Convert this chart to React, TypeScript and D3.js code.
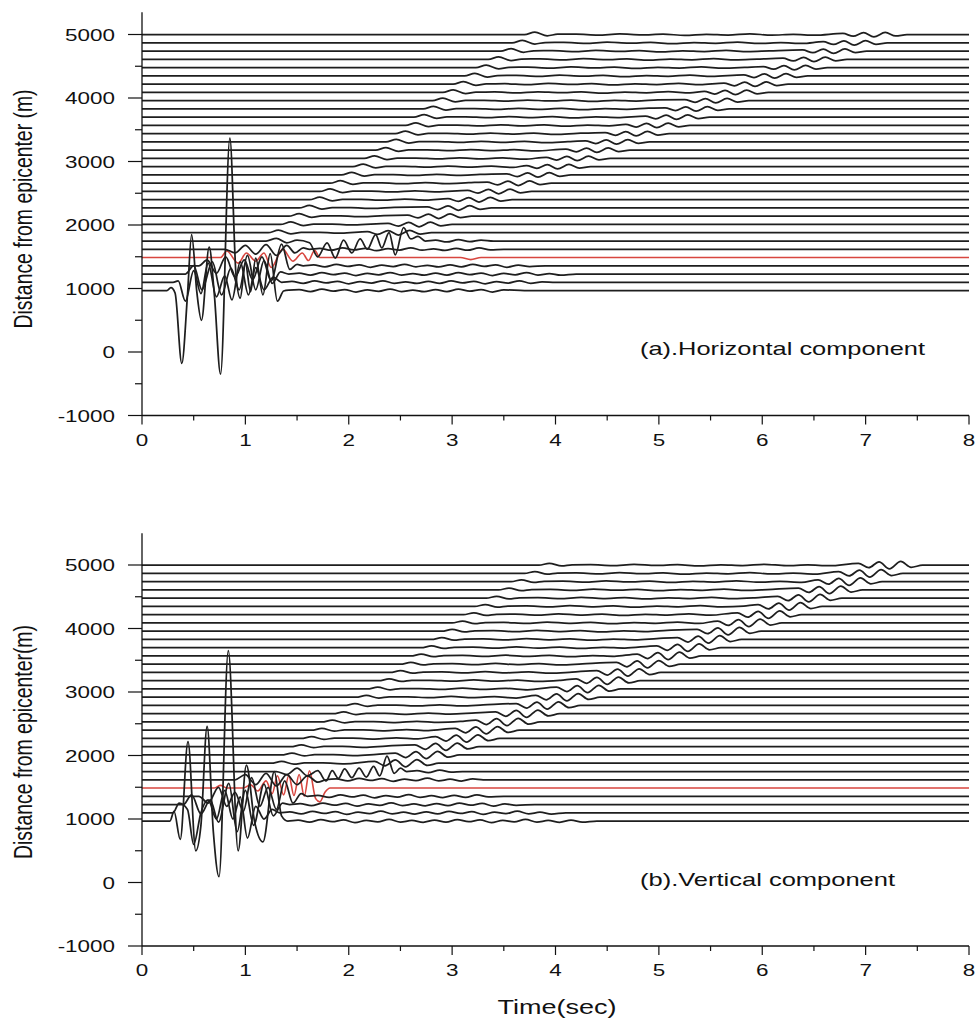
import React from "react";
import * as d3 from "d3";

// ---------- data ----------
const TIME_TICKS = [0, 1, 2, 3, 4, 5, 6, 7, 8];
const TIME_MINOR = [0.5, 1.5, 2.5, 3.5, 4.5, 5.5, 6.5, 7.5];
const DIST_TICKS = [-1000, 0, 1000, 2000, 3000, 4000, 5000];
const DIST_MINOR = [-500, 500, 1500, 2500, 3500, 4500];

// station distances (m), bottom to top
const DISTANCES = [
  968, 1098, 1228, 1358, 1488, 1618, 1748, 1878, 2008, 2138, 2268, 2398, 2528, 2658, 2788, 2918,
  3048, 3178, 3308, 3438, 3568, 3698, 3828, 3958, 4088, 4218, 4348, 4478, 4608, 4738, 4868, 4998,
];
const RED_INDEX = 4;

// near-field traces: key points [time (s), plotted distance (m)]
const NEAR_A: [number, number][][] = [
  [[0, 968], [0.24, 968], [0.28, 1015], [0.32, 930], [0.385, -180], [0.44, 900], [0.48, 1850], [0.53, 950], [0.575, 500], [0.65, 1650], [0.7, 900], [0.76, -350], [0.85, 3370], [0.91, 1200], [0.95, 850], [1.0, 1400], [1.05, 950], [1.1, 1480], [1.17, 900], [1.24, 1550], [1.31, 800], [1.37, 960], [1.42, 975]],
  [[0, 1098], [0.3, 1098], [0.35, 1120], [0.42, 800], [0.5, 1280], [0.57, 920], [0.64, 1400], [0.72, 870], [0.8, 1200], [0.87, 820], [0.95, 1420], [1.03, 900], [1.1, 1330], [1.18, 980], [1.27, 1180], [1.35, 1098]],
  [[0, 1228], [0.42, 1228], [0.5, 1360], [0.58, 980], [0.68, 1420], [0.77, 900], [0.86, 1320], [0.94, 980], [1.02, 1520], [1.1, 980], [1.18, 1440], [1.26, 1080], [1.34, 1260], [1.42, 1228]],
  [[0, 1358], [0.55, 1358], [0.63, 1450], [0.72, 1240], [0.81, 1500], [0.9, 1180], [0.99, 1450], [1.07, 1140], [1.16, 1500], [1.25, 1120], [1.35, 1700], [1.43, 1300], [1.5, 1380], [1.56, 1358]],
  [[0, 1488], [0.76, 1488], [0.82, 1590], [0.93, 1400], [1.01, 1560], [1.1, 1430], [1.18, 1560], [1.25, 1330], [1.36, 1620], [1.46, 1430], [1.55, 1560], [1.61, 1440], [1.67, 1600], [1.72, 1488], [3.08, 1488], [3.18, 1455], [3.28, 1488]],
  [[0, 1618], [0.8, 1618], [0.9, 1560], [1.0, 1680], [1.1, 1540], [1.2, 1690], [1.3, 1520], [1.4, 1680], [1.48, 1560], [1.56, 1640], [1.62, 1618]],
  [[0, 1748], [1.2, 1748], [1.3, 1790], [1.4, 1720], [1.5, 1760], [1.62, 1720], [1.7, 1500], [1.79, 1720], [1.87, 1480], [1.95, 1760], [2.03, 1560], [2.11, 1780], [2.18, 1620], [2.26, 1850], [2.32, 1640], [2.39, 1880], [2.45, 1530], [2.53, 1960], [2.6, 1780], [2.67, 1820], [2.74, 1748]],
];
const NEAR_B: [number, number][][] = [
  [[0, 968], [0.27, 968], [0.31, 1120], [0.37, 680], [0.445, 2217], [0.52, 500], [0.57, 900], [0.63, 2460], [0.69, 800], [0.745, 91], [0.835, 3650], [0.93, 500], [1.01, 1850], [1.09, 950], [1.17, 640], [1.28, 1745], [1.35, 1050], [1.41, 968]],
  [[0, 1098], [0.3, 1098], [0.36, 1250], [0.44, 1150], [0.5, 600], [0.57, 1100], [0.64, 1300], [0.72, 1000], [0.8, 1450], [0.88, 1000], [0.95, 1350], [1.02, 700], [1.1, 1200], [1.18, 1000], [1.26, 1150], [1.33, 1098]],
  [[0, 1228], [0.4, 1228], [0.48, 1380], [0.57, 1080], [0.66, 1300], [0.74, 950], [0.84, 1560], [0.92, 800], [1.0, 1450], [1.08, 900], [1.18, 1550], [1.27, 1050], [1.36, 1250], [1.43, 1228]],
  [[0, 1358], [0.55, 1358], [0.64, 1250], [0.74, 1500], [0.82, 1200], [0.9, 1420], [0.98, 1120], [1.06, 1650], [1.14, 1200], [1.22, 1500], [1.3, 1150], [1.38, 1600], [1.46, 1250], [1.54, 1400], [1.6, 1358]],
  [[0, 1488], [0.7, 1488], [0.76, 1530], [0.82, 1488], [0.98, 1488], [1.05, 1540], [1.12, 1440], [1.2, 1600], [1.26, 1400], [1.31, 1680], [1.37, 1380], [1.42, 1690], [1.47, 1370], [1.52, 1700], [1.57, 1360], [1.62, 1760], [1.68, 1320], [1.72, 1270], [1.77, 1420], [1.82, 1488]],
  [[0, 1618], [0.9, 1618], [1.0, 1700], [1.1, 1540], [1.2, 1720], [1.3, 1520], [1.4, 1700], [1.5, 1540], [1.6, 1680], [1.7, 1580], [1.78, 1618]],
  [[0, 1748], [1.3, 1748], [1.4, 1700], [1.5, 1800], [1.6, 1680], [1.7, 1760], [1.78, 1600], [1.84, 1760], [1.9, 1640], [1.96, 1790], [2.03, 1650], [2.1, 1800], [2.17, 1660], [2.24, 1830], [2.3, 1680], [2.37, 1990], [2.44, 1720], [2.5, 1800], [2.56, 1748]],
];
// end of the small coda on the near traces (s); 0 = none
const CODA_END_A = [3.6, 3.9, 4.1, 3.8, 0, 3.4, 3.3];
const CODA_END_B = [4.3, 4.0, 3.7, 3.4, 0, 3.2, 3.0];

// far traces (index 7..31): first-arrival time and end of wave train (s)
const ONSET_A = [1.22, 1.34, 1.42, 1.52, 1.62, 1.72, 1.82, 1.93, 2.04, 2.15, 2.26, 2.36, 2.45, 2.55, 2.63, 2.72, 2.81, 2.91, 3.01, 3.12, 3.23, 3.35, 3.47, 3.58, 3.7];
const END_A = [2.8, 3.0, 3.19, 3.38, 3.58, 3.77, 3.96, 4.15, 4.34, 4.53, 4.72, 4.91, 5.1, 5.3, 5.49, 5.68, 5.87, 6.06, 6.25, 6.44, 6.63, 6.82, 7.01, 7.21, 7.4];
const ONSET_B = [1.25, 1.35, 1.44, 1.54, 1.64, 1.74, 1.85, 1.96, 2.07, 2.18, 2.29, 2.4, 2.5, 2.6, 2.7, 2.8, 2.9, 3.0, 3.11, 3.22, 3.33, 3.45, 3.57, 3.7, 3.84];
const END_B = [2.87, 3.07, 3.26, 3.46, 3.65, 3.85, 4.04, 4.24, 4.43, 4.63, 4.82, 5.02, 5.21, 5.41, 5.6, 5.8, 5.99, 6.19, 6.38, 6.58, 6.77, 6.97, 7.16, 7.36, 7.55];
// amplitudes (m): onset hump, middle wiggle, final wiggle, near-trace coda
const AMP_A = { head: 40, mid: 13, tail: 36, coda: 26 };
const AMP_B = { head: 28, mid: 14, tail: 58, coda: 28 };

// shape of the wave train (time offset s, relative amplitude)
const HEAD_SHAPE: [number, number][] = [[0.1, 1], [0.22, -0.45], [0.32, 0.15]];
const MID_SHAPE = [0.5, -0.6, 0.8, -0.4, 0.6, -0.9, 0.4, -0.5, 0.9, -0.6, 0.3, -0.7];
const MID_STEP = 0.21;
const CODA_STEP = 0.11;
const TAIL_SHAPE: [number, number][] = [[-0.62, 0.5], [-0.52, -0.7], [-0.42, 0.9], [-0.32, -1], [-0.21, 1], [-0.11, -0.6], [0, 0]];

// ---------- layout ----------
const W = 976;
const H = 1020;
const X0 = 142;
const X1 = 969;
const FONT = "'Liberation Sans', Arial, Helvetica, sans-serif";
const SX = 1.32;

function midPoints(base: number, t0: number, t1: number, amp: number, step: number): [number, number][] {
  const pts: [number, number][] = [];
  let k = 0;
  for (let t = t0; t < t1; t += step) {
    pts.push([t, base + amp * MID_SHAPE[k % MID_SHAPE.length]]);
    k++;
  }
  return pts;
}

function farTrace(base: number, onset: number, end: number, amp: { head: number; mid: number; tail: number }): [number, number][] {
  const pts: [number, number][] = [[0, base], [onset, base]];
  HEAD_SHAPE.forEach(([dt, a]) => pts.push([onset + dt, base + a * amp.head]));
  pts.push(...midPoints(base, onset + 0.5, end - 0.74, amp.mid, MID_STEP));
  TAIL_SHAPE.forEach(([dt, a]) => pts.push([end + dt, base + a * amp.tail]));
  pts.push([8, base]);
  return pts;
}

function nearTrace(base: number, keys: [number, number][], codaEnd: number, codaAmp: number): [number, number][] {
  const pts: [number, number][] = keys.slice();
  const last = keys[keys.length - 1][0];
  if (codaEnd > 0) {
    pts.push(...midPoints(base, last + 0.1, codaEnd, codaAmp, CODA_STEP));
    pts.push([codaEnd + 0.1, base]);
  }
  pts.push([8, base]);
  return pts;
}

type PanelProps = {
  y5000: number;
  yMinus: number;
  yTop: number;
  near: [number, number][][];
  codaEnd: number[];
  onset: number[];
  end: number[];
  amp: { head: number; mid: number; tail: number; coda: number };
  label: string;
  labelLen: number;
  note: string;
  noteLen: number;
  labelY: number;
};

function Panel(p: PanelProps) {
  const x = d3.scaleLinear().domain([0, 8]).range([X0, X1]);
  const y = d3.scaleLinear().domain([-1000, 5000]).range([p.yMinus, p.y5000]);
  const line = d3
    .line<[number, number]>()
    .x((d) => x(d[0]))
    .y((d) => y(d[1]))
    .curve(d3.curveMonotoneX);

  const traces = DISTANCES.map((base, i) => {
    if (i < p.near.length) return nearTrace(base, p.near[i], p.codaEnd[i], p.amp.coda);
    const j = i - p.near.length;
    return farTrace(base, p.onset[j], p.end[j], p.amp);
  });

  const yAxisTop = y(p.yTop);
  const yBottom = y(-1000);

  return (
    <g>
      {/* red trace first */}
      <path d={line(traces[RED_INDEX]) || ""} fill="none" stroke="#d8463f" strokeWidth={1.6} />
      {traces.map((tr, i) =>
        i === RED_INDEX ? null : (
          <path key={i} d={line(tr) || ""} fill="none" stroke="#1e1e1e" strokeWidth={1.75} strokeLinejoin="round" />
        )
      )}
      {/* y axis */}
      <line x1={X0} x2={X0} y1={yAxisTop} y2={yBottom} stroke="#111" strokeWidth={1.3} />
      {DIST_TICKS.map((v) => (
        <g key={v}>
          <line x1={X0 - 14} x2={X0} y1={y(v)} y2={y(v)} stroke="#111" strokeWidth={1.2} />
          <text
            transform={`translate(115,${y(v) + 6}) scale(${SX},1)`}
            textAnchor="end"
            fontFamily={FONT}
            fontSize={17}
            fill="#111"
          >
            {v}
          </text>
        </g>
      ))}
      {DIST_MINOR.map((v) => (
        <line key={v} x1={X0 - 7} x2={X0} y1={y(v)} y2={y(v)} stroke="#111" strokeWidth={1.2} />
      ))}
      {/* x axis */}
      <line x1={X0} x2={X1} y1={yBottom} y2={yBottom} stroke="#111" strokeWidth={1.3} />
      {TIME_TICKS.map((v) => (
        <g key={v}>
          <line x1={x(v)} x2={x(v)} y1={yBottom} y2={yBottom + 9} stroke="#111" strokeWidth={1.2} />
          <text
            transform={`translate(${x(v)},${yBottom + 30}) scale(${SX},1)`}
            textAnchor="middle"
            fontFamily={FONT}
            fontSize={17}
            fill="#111"
          >
            {v}
          </text>
        </g>
      ))}
      {TIME_MINOR.map((v) => (
        <line key={v} x1={x(v)} x2={x(v)} y1={yBottom} y2={yBottom + 5} stroke="#111" strokeWidth={1.2} />
      ))}
      {/* y label */}
      <text
        transform={`translate(31.5,${p.labelY}) scale(${SX},1) rotate(-90)`}
        textAnchor="middle"
        fontFamily={FONT}
        fontSize={19}
        fill="#111"
        textLength={p.labelLen}
        lengthAdjust="spacingAndGlyphs"
      >
        {p.label}
      </text>
      {/* component note */}
      <text
        x={640}
        y={y(0) + 3}
        fontFamily={FONT}
        fontSize={18.5}
        fill="#111"
        textLength={p.noteLen}
        lengthAdjust="spacingAndGlyphs"
      >
        {p.note}
      </text>
    </g>
  );
}

export default function App() {
  return (
    <svg width={W} height={H} style={{ position: "absolute", left: 0, top: 0, background: "#fff" }}>
      <rect width={W} height={H} fill="#fff" />
      <Panel
        y5000={34.5}
        yMinus={415.5}
        yTop={5350}
        near={NEAR_A}
        codaEnd={CODA_END_A}
        onset={ONSET_A}
        end={END_A}
        amp={AMP_A}
        label="Distance from epicenter (m)"
        labelLen={239}
        note="(a).Horizontal component"
        noteLen={285}
        labelY={209}
      />
      <Panel
        y5000={565}
        yMinus={946}
        yTop={5500}
        near={NEAR_B}
        codaEnd={CODA_END_B}
        onset={ONSET_B}
        end={END_B}
        amp={AMP_B}
        label="Distance from epicenter(m)"
        labelLen={234}
        note="(b).Vertical component"
        noteLen={255}
        labelY={742}
      />
      <text
        x={557}
        y={1014}
        textAnchor="middle"
        fontFamily={FONT}
        fontSize={20.5}
        fill="#111"
        textLength={119}
        lengthAdjust="spacingAndGlyphs"
      >
        Time(sec)
      </text>
    </svg>
  );
}
